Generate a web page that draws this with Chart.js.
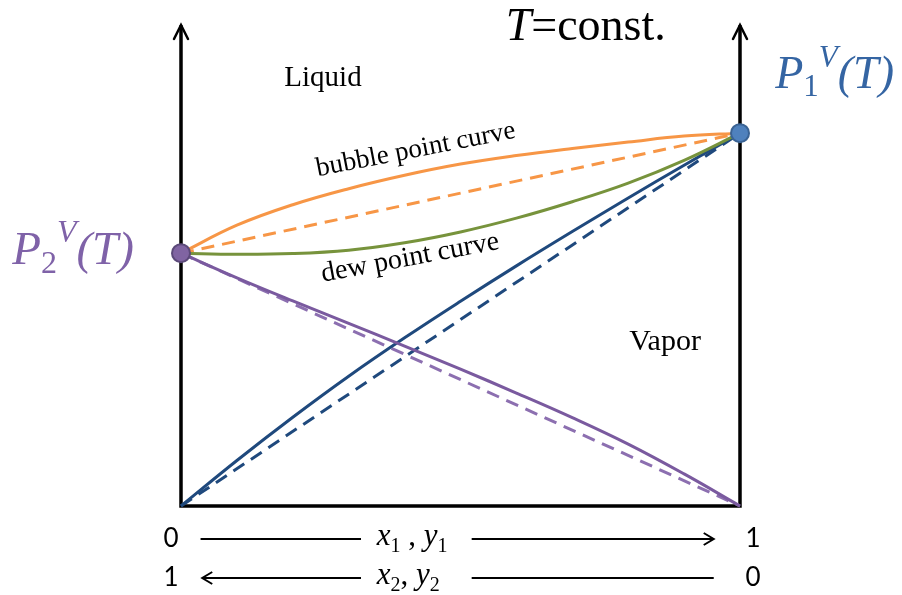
<!DOCTYPE html>
<html>
<head>
<meta charset="utf-8">
<script src="https://cdn.jsdelivr.net/npm/chart.js@4/dist/chart.umd.min.js"></script>
<style>
  html, body { margin: 0; padding: 0; background: #fff; }
  #wrap { width: 902px; height: 595px; }
</style>
</head>
<body>
<div id="wrap"><canvas id="vleChart"></canvas></div>
<script>
// mole fraction of component 1 (x1 / y1)
var xs = [0, 0.1, 0.2, 0.3, 0.4, 0.5, 0.6, 0.7, 0.8, 0.9, 1];
// pressures, relative to P1^V(T) = 1
var bubblePoint = [0.678, 0.753, 0.808, 0.851, 0.887, 0.917, 0.940, 0.959, 0.976, 0.992, 1.0];
var dewPoint    = [0.678, 0.675, 0.677, 0.686, 0.706, 0.735, 0.772, 0.816, 0.866, 0.927, 1.0];
var partial1    = [0, 0.122, 0.238, 0.348, 0.451, 0.549, 0.644, 0.736, 0.826, 0.914, 1.0];
var partial2    = [0.678, 0.612, 0.550, 0.490, 0.429, 0.367, 0.303, 0.237, 0.166, 0.086, 0];
// Raoult (ideal) straight lines
var idealX        = [0, 1];
var idealTotal    = [0.678, 1.0];
var idealPartial1 = [0, 1.0];
var idealPartial2 = [0.678, 0];
// pure-component vapour pressures
var pureX = [0, 1];
var pureP = [0.678, 1.0];

function pts(xv, yv) {
    return xv.map(function(x, i) { return { x: x, y: yv[i] }; });
}

var serif = '"Liberation Serif", "DejaVu Serif", serif';

// draw a run of text pieces: [text, font, dy, color]
function drawRuns(ctx, runs, x, y) {
    runs.forEach(function(r) {
        ctx.font = r[1];
        ctx.fillStyle = r[3];
        ctx.fillText(r[0], x, y + r[2]);
        x += ctx.measureText(r[0]).width;
    });
    return x;
}

function runsWidth(ctx, runs) {
    var w = 0;
    runs.forEach(function(r) { ctx.font = r[1]; w += ctx.measureText(r[0]).width; });
    return w;
}

function arrowHead(ctx, x, y, dir) {
    ctx.beginPath();
    ctx.moveTo(x - dir * 10, y - 6);
    ctx.lineTo(x, y);
    ctx.lineTo(x - dir * 10, y + 6);
    ctx.stroke();
}

var diagramPlugin = {
    id: 'diagram',
    beforeDatasetsDraw: function(chart) {
        var ctx = chart.ctx, a = chart.chartArea;
        ctx.save();
        ctx.strokeStyle = '#000';
        ctx.lineWidth = 3.5;
        ctx.lineCap = 'square';
        ctx.beginPath();
        ctx.moveTo(a.left, a.top + 2);
        ctx.lineTo(a.left, a.bottom);
        ctx.lineTo(a.right, a.bottom);
        ctx.lineTo(a.right, a.top + 2);
        ctx.stroke();
        // arrow heads on the two pressure axes
        ctx.lineWidth = 2.5;
        ctx.lineCap = 'round';
        [a.left, a.right].forEach(function(x) {
            ctx.beginPath();
            ctx.moveTo(x - 7, a.top + 14);
            ctx.lineTo(x, a.top);
            ctx.lineTo(x + 7, a.top + 14);
            ctx.stroke();
        });
        ctx.restore();
    },
    afterDatasetsDraw: function(chart) {
        var ctx = chart.ctx, sx = chart.scales.x, sy = chart.scales.y, a = chart.chartArea;
        var X = function(v) { return sx.getPixelForValue(v); };
        var Y = function(v) { return sy.getPixelForValue(v); };
        ctx.save();
        ctx.textBaseline = 'middle';
        ctx.textAlign = 'left';

        // T=const.
        var title = [['T', 'italic 46px ' + serif, 0, '#000'], ['=const.', '46px ' + serif, 0, '#000']];
        drawRuns(ctx, title, X(0.724) - runsWidth(ctx, title) / 2, Y(1.282));

        ctx.fillStyle = '#000';
        ctx.textAlign = 'center';
        ctx.font = '29px ' + serif;
        ctx.fillText('Liquid', X(0.254), Y(1.147));
        ctx.font = '30px ' + serif;
        ctx.fillText('Vapor', X(0.866), Y(0.44));

        // curve labels
        ctx.font = '27px ' + serif;
        ctx.save();
        ctx.translate(X(0.42), Y(0.955));
        ctx.rotate(-11 * Math.PI / 180);
        ctx.fillText('bubble point curve', 0, 0);
        ctx.restore();
        ctx.font = '28px ' + serif;
        ctx.save();
        ctx.translate(X(0.41), Y(0.665));
        ctx.rotate(-10.5 * Math.PI / 180);
        ctx.fillText('dew point curve', 0, 0);
        ctx.restore();

        // pure component vapour pressure labels
        ctx.textAlign = 'left';
        ctx.textBaseline = 'alphabetic';
        var blue = '#3565A3', purple = '#7F62A8';
        drawRuns(ctx, [
            ['P', 'italic 46px ' + serif, 0, blue],
            ['1', '31px ' + serif, 8, blue],
            ['V', 'italic 31px ' + serif, -21, blue],
            ['(T)', 'italic 46px ' + serif, 0, blue]
        ], X(1.063), Y(1.12));
        drawRuns(ctx, [
            ['P', 'italic 47px ' + serif, 0, purple],
            ['2', '32px ' + serif, 9, purple],
            ['V', 'italic 32px ' + serif, -22, purple],
            ['(T)', 'italic 47px ' + serif, 0, purple]
        ], X(-0.302), Y(0.648));

        // composition axis legend below the chart
        var sans = '"Lato", "Liberation Sans", sans-serif';
        var r1 = a.bottom + 33, r2 = a.bottom + 72;
        ctx.textBaseline = 'middle';
        ctx.textAlign = 'center';
        ctx.fillStyle = '#000';
        ctx.font = '26px ' + sans;
        ctx.fillText('0', X(0) - 10, r1);
        ctx.fillText('1', X(1) + 13, r1);
        ctx.fillText('1', X(0) - 10, r2);
        ctx.fillText('0', X(1) + 13, r2);

        ctx.strokeStyle = '#000';
        ctx.lineWidth = 2;
        ctx.beginPath();
        ctx.moveTo(X(0.035), r1); ctx.lineTo(X(0.322), r1);
        ctx.moveTo(X(0.52), r1); ctx.lineTo(X(0.953), r1);
        ctx.moveTo(X(0.038), r2); ctx.lineTo(X(0.322), r2);
        ctx.moveTo(X(0.52), r2); ctx.lineTo(X(0.953), r2);
        ctx.stroke();
        arrowHead(ctx, X(0.953), r1, 1);
        arrowHead(ctx, X(0.038), r2, -1);

        ctx.textAlign = 'left';
        ctx.textBaseline = 'alphabetic';
        var it = 'italic 31px ' + serif, sub = '20px ' + serif;
        drawRuns(ctx, [
            ['x', it, 0, '#000'], ['1', sub, 7, '#000'], [' , ', '31px ' + serif, 0, '#000'],
            ['y', it, 0, '#000'], ['1', sub, 7, '#000']
        ], X(0.35), r1 + 6);
        drawRuns(ctx, [
            ['x', it, 0, '#000'], ['2', sub, 7, '#000'], [', ', '31px ' + serif, 0, '#000'],
            ['y', it, 0, '#000'], ['2', sub, 7, '#000']
        ], X(0.35), r2 + 6);
        ctx.restore();
    }
};

document.addEventListener('DOMContentLoaded', function() {
    var ctx = document.getElementById('vleChart').getContext('2d');
    var solid = { borderWidth: 3, pointRadius: 0, fill: false, tension: 0.4, clip: false };
    var dashed = { borderWidth: 3, pointRadius: 0, fill: false, borderDash: [13, 8], clip: false };
    new Chart(ctx, {
        type: 'line',
        data: {
            datasets: [
                Object.assign({ label: 'pure', data: pts(pureX, pureP), showLine: false, pointRadius: 9,
                    pointBackgroundColor: ['#8064A2', '#4F81BD'], pointBorderColor: ['#5C4A7A', '#3A6394'],
                    pointBorderWidth: 2, clip: false, order: 0 }),
                Object.assign({ label: 'bubble point', data: pts(xs, bubblePoint), borderColor: '#F79646', order: 1 }, solid),
                Object.assign({ label: 'dew point', data: pts(xs, dewPoint), borderColor: '#77933C', order: 2 }, solid),
                Object.assign({ label: 'ideal total', data: pts(idealX, idealTotal), borderColor: '#F79646', order: 3 }, dashed),
                Object.assign({ label: 'p1', data: pts(xs, partial1), borderColor: '#1F497D', order: 5 }, solid),
                Object.assign({ label: 'p1 ideal', data: pts(idealX, idealPartial1), borderColor: '#1F497D', order: 6 }, dashed),
                Object.assign({ label: 'p2', data: pts(xs, partial2), borderColor: '#7A5A9F', order: 4 }, solid),
                Object.assign({ label: 'p2 ideal', data: pts(idealX, idealPartial2), borderColor: '#8C6FB0', order: 7 }, dashed)
            ]
        },
        options: {
            responsive: true,
            maintainAspectRatio: false,
            animation: false,
            layout: { padding: { left: 181, right: 162, top: 25, bottom: 89 } },
            scales: {
                x: { type: 'linear', min: 0, max: 1, display: false },
                y: { type: 'linear', min: 0, max: 1.29, display: false }
            },
            plugins: {
                legend: { display: false },
                tooltip: { enabled: false }
            }
        },
        plugins: [diagramPlugin]
    });
});
</script>
</body>
</html>
